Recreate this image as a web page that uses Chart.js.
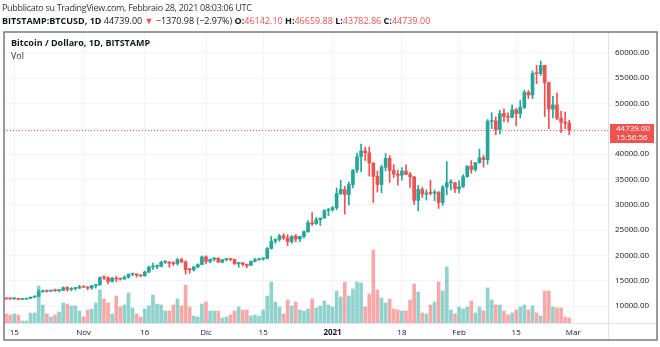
<!DOCTYPE html>
<html>
<head>
<meta charset="utf-8">
<script src="https://cdn.jsdelivr.net/npm/chart.js@4.4.1/dist/chart.umd.min.js"></script>
<style>
  body { margin: 0; background: #fff; }
  #wrap { position: relative; width: 660px; height: 347px; font-family: "Open Sans", sans-serif; color: #131722; }
  #chart { position: absolute; left: 0; top: 0; }
  .txt { position: absolute; white-space: nowrap; line-height: 1; }
  .dn { color: #ef5350; }
</style>
</head>
<body>
<div id="wrap">
  <canvas id="chart" width="660" height="347"></canvas>
  <div class="txt" style="left:2px;top:3px;font-size:9px;letter-spacing:-0.3px;color:#333">Pubblicato su TradingView.com, Febbraio 28, 2021 08:03:06 UTC</div>
  <div class="txt" style="left:2px;top:16px;font-size:9px"><b>BITSTAMP:BTCUSD, 1D</b> 44739.00 <span class="dn">▼</span> −1370.98 (−2.97%) <b>O:</b><span class="dn">46142.10</span> <b>H:</b><span class="dn">46659.88</span> <b>L:</b><span class="dn">43782.86</span> <b>C:</b><span class="dn">44739.00</span></div>
  <div class="txt" style="left:11px;top:38px;font-size:9px;font-weight:bold">Bitcoin / Dollaro, 1D, BITSTAMP</div>
  <div class="txt" style="left:11px;top:51px;font-size:9px;color:#333">Vol</div>
</div>
<script>
// daily candles, 13 Oct 2020 -> 28 Feb 2021 (BITSTAMP:BTCUSD)
const START_DATE = '2020-10-13';
const DAYS_SHOWN = 148; // includes empty space to the right of the last candle

const opens = [
  11540, 11425, 11420, 11500, 11320, 11360, 11500, 11750, 11915, 12810, 12980, 12930, 13120, 13030, 13070, 13640, 13280, 13460, 13560,
  13800, 13760, 13550, 14030, 14150, 15590, 15580, 14830, 15480, 15330, 15310, 15700, 16280, 16320, 16070, 15960, 16720, 17660, 17800, 17820, 18660, 18700, 18420, 18370, 19150, 18720, 17150, 17140, 17720, 18180,
  19700, 18790, 19220, 19450, 18650, 19150, 19360, 19170, 18320, 18550, 18250, 18030, 18800, 19160, 19270, 19440, 21350, 22800, 23130, 23840, 23470, 22720, 23810, 23240, 23730, 24690, 26440, 26250, 27030, 27360, 28840,
  28980, 29390, 32190, 33000, 31990, 33970, 36820, 39460, 40620, 40240, 38240, 35570, 33990, 37390, 39150, 36770, 36060, 35800, 36640, 35960, 35490, 30850, 33000, 32070, 32290, 32260, 32500, 30430, 33470, 34320, 34330,
  33120, 33530, 35510, 37620, 36940, 38290, 39260, 38890, 46450, 46530, 44840, 47990, 47400, 47250, 48720, 47950, 49200, 52160, 51650, 55920, 55850, 57490, 54090, 48890, 49690, 47060, 46280, 46142.10
];
const highs = [
  11560, 11550, 11630, 11540, 11400, 11520, 11800, 12030, 13220, 13190, 13030, 13160, 13340, 13240, 13780, 13860, 13640, 13680, 14100,
  13900, 13820, 14070, 14250, 15760, 15970, 15770, 15650, 15850, 15480, 15960, 16340, 16480, 16330, 16140, 16880, 17860, 18480, 18140, 18810, 18960, 18750, 18770, 19420, 19480, 18920, 17440, 17880, 18330, 19860,
  19920, 19300, 19600, 19530, 19180, 19420, 19420, 19290, 18630, 18560, 18270, 18940, 19410, 19340, 19570, 21560, 23770, 23280, 24170, 24280, 24090, 23840, 24100, 23780, 24780, 26870, 28420, 27510, 27370, 28990, 29300,
  29670, 33300, 34800, 33600, 34500, 36940, 40180, 41950, 41350, 41400, 38250, 36630, 37820, 40100, 39700, 37900, 36820, 37340, 37850, 36400, 35590, 33820, 33450, 32940, 34800, 32900, 32550, 33780, 38500, 34900, 34340,
  34700, 35950, 37650, 38700, 38300, 40960, 39740, 46800, 48170, 47330, 48600, 48920, 48150, 49700, 49000, 50600, 52600, 52550, 56400, 57500, 58350, 57500, 54200, 51380, 52050, 48400, 48300, 46659.88
];
const lows = [
  11300, 11280, 11270, 11220, 11300, 11340, 11400, 11690, 11900, 12700, 12730, 12900, 12900, 12790, 13050, 12930, 12990, 13130, 13430,
  13620, 13200, 13300, 13530, 14100, 15190, 14380, 14720, 14830, 15100, 15290, 15470, 15960, 15710, 15800, 15880, 16560, 17220, 17350, 17770, 18380, 17660, 18000, 18040, 18560, 16300, 16450, 16880, 17540, 18180,
  18330, 18510, 18900, 18590, 18520, 18900, 18900, 18200, 17630, 17920, 17570, 18020, 18710, 19000, 19060, 19290, 21240, 22360, 22770, 23060, 21900, 22370, 22660, 22700, 23430, 24510, 25850, 26100, 25900, 27320, 27850,
  28700, 29000, 32000, 28130, 29900, 33300, 36300, 36500, 38720, 35650, 30400, 32500, 32360, 36700, 34400, 35370, 33850, 34860, 35900, 33400, 30070, 28800, 31400, 30900, 31900, 30800, 29250, 29850, 31950, 32900, 32350,
  32300, 33430, 35400, 36200, 36600, 38150, 37400, 37990, 45000, 43800, 43950, 46320, 46300, 47100, 45600, 47100, 48950, 50950, 50900, 53900, 55500, 47400, 45000, 47100, 46800, 44200, 45000, 43782.86
];
const closes = [
  11425, 11420, 11500, 11320, 11360, 11500, 11750, 11915, 12810, 12980, 12930, 13120, 13030, 13070, 13640, 13280, 13460, 13560, 13800,
  13760, 13550, 14030, 14150, 15590, 15580, 14830, 15480, 15330, 15310, 15700, 16280, 16320, 16070, 15960, 16720, 17660, 17800, 17820, 18660, 18700, 18420, 18370, 19150, 18720, 17150, 17140, 17720, 18180, 19700,
  18790, 19220, 19450, 18650, 19150, 19360, 19170, 18320, 18550, 18250, 18030, 18800, 19160, 19270, 19440, 21350, 22800, 23130, 23840, 23470, 22720, 23810, 23240, 23730, 24690, 26440, 26250, 27030, 27360, 28840, 28980,
  29390, 32190, 33000, 31990, 33970, 36820, 39460, 40620, 40240, 38240, 35570, 33990, 37390, 39150, 36770, 36060, 35800, 36640, 35960, 35490, 30850, 33000, 32070, 32290, 32260, 32500, 30430, 33470, 34320, 34330, 33120,
  33530, 35510, 37620, 36940, 38290, 39260, 38890, 46450, 46530, 44840, 47990, 47400, 47250, 48720, 47950, 49200, 52160, 51650, 55920, 55850, 57490, 54090, 48890, 49690, 47060, 46280, 46110, 44739.00
];
const volumes = [
  4500, 4000, 4500, 4000, 1000, 1000, 5000, 5000, 18500, 9000, 4500, 3000, 4000, 5500, 10000, 9500, 8500, 8500, 6000,
  3000, 6500, 7000, 10000, 16500, 12000, 10000, 4500, 13500, 8000, 9000, 15000, 7500, 4500, 3000, 7000, 8500, 14000, 9500, 9000, 6000, 6000, 9000, 12000, 8500, 19000, 8000, 3500, 3000, 9500,
  10500, 6000, 6000, 6000, 2500, 3000, 4000, 6000, 8000, 6500, 6500, 3500, 4000, 3500, 6500, 13500, 20500, 10500, 8000, 4500, 11500, 8500, 10500, 6500, 6000, 7000, 12000, 7500, 8500, 11000, 9000,
  8000, 16000, 13000, 20500, 13500, 17000, 20500, 20000, 8000, 14500, 36500, 16500, 12500, 10000, 12000, 7000, 6500, 6000, 6000, 11500, 19500, 15500, 5000, 4500, 9000, 10500, 20500, 16000, 28000, 6500, 4500,
  8000, 7000, 8000, 11000, 5000, 8000, 6000, 17500, 11500, 9000, 9000, 6000, 4000, 5000, 6500, 8000, 9000, 6500, 8500, 5000, 3500, 16000, 16000, 8000, 7500, 7500, 3000, 2500
];

const priceTicks = [10000, 15000, 20000, 25000, 30000, 35000, 40000, 45000, 50000, 55000, 60000];
const timeTickDates = ['2020-10-15', '2020-11-01', '2020-11-16', '2020-12-01', '2020-12-15', '2021-01-01', '2021-01-18', '2021-02-01', '2021-02-15', '2021-03-01'];
const timeTickText = ['15', 'Nov', '16', 'Dic', '15', '2021', '18', 'Feb', '15', 'Mar'];
const lastTime = '15:56:56';

const UP = '#26a69a', DOWN = '#ef5350';
const UP_VOL = 'rgba(38,166,154,0.5)', DOWN_VOL = 'rgba(239,83,80,0.5)';

const dates = [];
const d0 = new Date(START_DATE + 'T00:00:00Z');
for (let i = 0; i < DAYS_SHOWN; i++) {
  dates.push(new Date(d0.getTime() + i * 86400000).toISOString().slice(0, 10));
}
const timeTickIdx = timeTickDates.map(d => dates.indexOf(d));

const isUp = closes.map((c, i) => c >= opens[i]);
const candleColor = isUp.map(u => u ? UP : DOWN);
const volColor = isUp.map(u => u ? UP_VOL : DOWN_VOL);
const lastClose = closes[closes.length - 1];

// frame, separators and the last-price marker
const tvFrame = {
  id: 'tvFrame',
  beforeDatasetsDraw(chart) {
    const { ctx, chartArea: a, scales } = chart;
    const y = Math.round(scales.y.getPixelForValue(lastClose)) + 0.5;
    ctx.save();
    ctx.strokeStyle = DOWN;
    ctx.lineWidth = 1;
    ctx.setLineDash([1, 2]);
    ctx.beginPath();
    ctx.moveTo(a.left, y);
    ctx.lineTo(a.right, y);
    ctx.stroke();
    ctx.restore();
  },
  afterDraw(chart) {
    const { ctx, chartArea: a, scales } = chart;
    ctx.save();
    ctx.strokeStyle = '#e0e3eb';
    ctx.lineWidth = 1;
    ctx.beginPath();
    ctx.moveTo(a.right + 0.5, a.top);
    ctx.lineTo(a.right + 0.5, 340);
    ctx.moveTo(a.left, a.bottom + 0.5);
    ctx.lineTo(657, a.bottom + 0.5);
    ctx.stroke();
    ctx.strokeStyle = '#7b7b7b';
    ctx.lineWidth = 1.5;
    ctx.strokeRect(4, 32, 653, 308);

    const y = scales.y.getPixelForValue(lastClose);
    ctx.fillStyle = DOWN;
    ctx.fillRect(a.right + 2, y - 6, 44, 19);
    ctx.fillStyle = '#fff';
    ctx.font = '8px "Open Sans"';
    ctx.textBaseline = 'middle';
    ctx.textAlign = 'left';
    ctx.fillText(lastClose.toFixed(2), a.right + 8, y - 1);
    ctx.fillText(lastTime, a.right + 8, y + 8);
    ctx.restore();
  }
};

new Chart(document.getElementById('chart'), {
  type: 'bar',
  data: {
    labels: dates,
    datasets: [
      { label: 'Vol', data: volumes, yAxisID: 'yv', backgroundColor: volColor, barThickness: 3, order: 3 },
      { label: 'wick', data: lows.map((l, i) => [l, highs[i]]), yAxisID: 'y', backgroundColor: candleColor, barThickness: 1, order: 2 },
      { label: 'body', data: opens.map((o, i) => [o, closes[i]]), yAxisID: 'y', backgroundColor: candleColor, barThickness: 3, minBarLength: 1, order: 1 }
    ]
  },
  options: {
    responsive: false,
    animation: false,
    devicePixelRatio: 1,
    layout: { padding: { left: 4, top: 32, right: 3, bottom: 7 } },
    datasets: { bar: { grouped: false, borderWidth: 0 } },
    plugins: { legend: { display: false }, tooltip: { enabled: false } },
    scales: {
      x: {
        type: 'category',
        grid: { offset: false, color: '#f0f3fa', drawTicks: false },
        border: { display: false },
        afterBuildTicks: s => { s.ticks = timeTickIdx.map(i => ({ value: i })); },
        afterFit: s => { s.height = 17; },
        ticks: {
          autoSkip: false, maxRotation: 0, padding: 5, color: '#131722',
          font: ctx => ({ family: '"Open Sans"', size: 8, weight: timeTickText[ctx.index] === '2021' ? 'bold' : 'normal' }),
          callback: (v, i) => timeTickText[i]
        }
      },
      y: {
        position: 'right',
        min: 6650, max: 64080,
        grid: { color: '#f0f3fa', drawTicks: false },
        border: { display: false },
        afterBuildTicks: s => { s.ticks = priceTicks.map(v => ({ value: v })); },
        afterFit: s => { s.width = 49; },
        ticks: {
          padding: 7, color: '#131722',
          font: { family: '"Open Sans"', size: 8 },
          callback: v => Number(v).toFixed(2)
        }
      },
      yv: {
        display: false,
        min: 0, max: 145500
      }
    }
  },
  plugins: [tvFrame]
});
</script>
</body>
</html>
